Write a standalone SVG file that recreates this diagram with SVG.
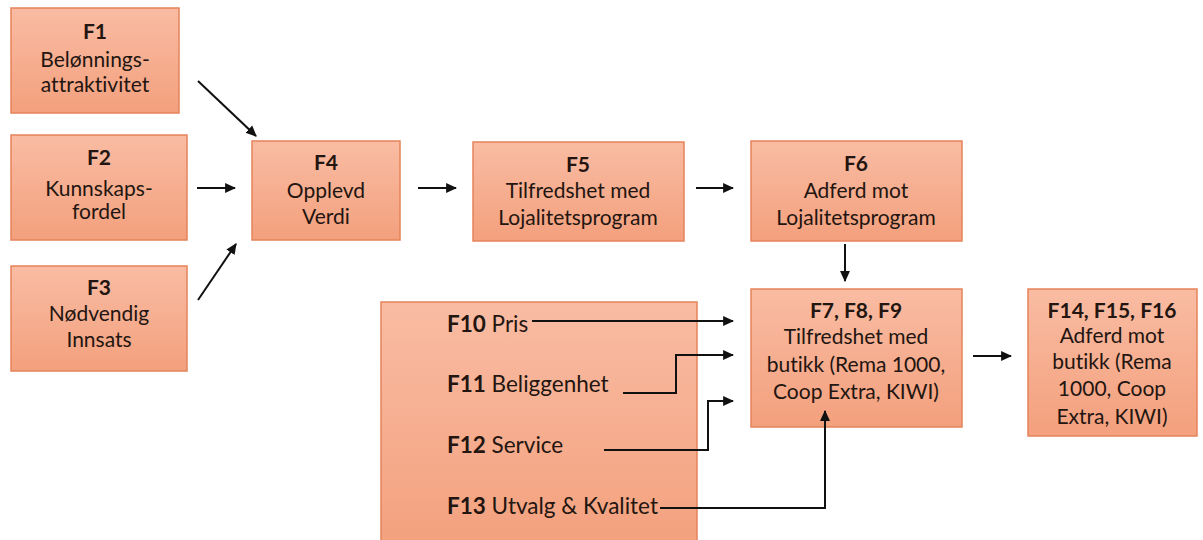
<svg xmlns="http://www.w3.org/2000/svg" width="1203" height="540" viewBox="0 0 1203 540">
  <defs>
    <linearGradient id="boxFill" x1="0" y1="0" x2="0" y2="1">
      <stop offset="0" stop-color="#F9BCA3"/>
      <stop offset="1" stop-color="#F3A07D"/>
    </linearGradient>
    <marker id="arrow" viewBox="0 0 10 10" refX="9" refY="5" markerWidth="11" markerHeight="11" markerUnits="userSpaceOnUse" orient="auto">
      <path d="M0,0.5 L10,5 L0,9.5 z" fill="#111"/>
    </marker>
  </defs>
  <style>
    .box { fill: url(#boxFill); stroke: #E5835A; stroke-width: 1.5; }
    text { font-variant-ligatures: none; font-feature-settings: "liga" 0, "clig" 0, "dlig" 0; }
    .t { font-family: Lato, "Open Sans", sans-serif; font-size: 21px; fill: #231510; text-anchor: middle; }
    .b { font-weight: bold; }
    .lbl { font-family: Lato, "Open Sans", sans-serif; font-size: 22.5px; fill: #231510; }
    .conn { fill: none; stroke: #111; stroke-width: 2; marker-end: url(#arrow); }
  </style>
  <rect width="1203" height="540" fill="#ffffff"/>

  <g id="F1">
    <rect class="box" x="11" y="8" width="168" height="105"/>
    <text class="t b" x="95" y="39">F1</text>
    <text class="t" x="95" y="67">Belønnings-</text>
    <text class="t" x="95" y="92">attraktivitet</text>
  </g>
  <g id="F2">
    <rect class="box" x="11" y="135" width="176" height="105"/>
    <text class="t b" x="99" y="165">F2</text>
    <text class="t" x="99" y="196">Kunnskaps-</text>
    <text class="t" x="99" y="219">fordel</text>
  </g>
  <g id="F3">
    <rect class="box" x="11" y="266" width="176" height="105"/>
    <text class="t b" x="99" y="295">F3</text>
    <text class="t" x="99" y="321">Nødvendig</text>
    <text class="t" x="99" y="347">Innsats</text>
  </g>
  <g id="F4">
    <rect class="box" x="252" y="141" width="148" height="99"/>
    <text class="t b" x="326" y="170">F4</text>
    <text class="t" x="326" y="198">Opplevd</text>
    <text class="t" x="326" y="224">Verdi</text>
  </g>
  <g id="F5">
    <rect class="box" x="473" y="142" width="211" height="99"/>
    <text class="t b" x="578" y="172">F5</text>
    <text class="t" x="578" y="198">Tilfredshet med</text>
    <text class="t" x="578" y="225">Lojalitetsprogram</text>
  </g>
  <g id="F6">
    <rect class="box" x="751" y="141" width="211" height="100"/>
    <text class="t b" x="856" y="171">F6</text>
    <text class="t" x="856" y="198">Adferd mot</text>
    <text class="t" x="856" y="225">Lojalitetsprogram</text>
  </g>
  <g id="F7-F9">
    <rect class="box" x="751" y="289" width="211" height="138"/>
    <text class="t b" x="856" y="318">F7, F8, F9</text>
    <text class="t" x="856" y="344">Tilfredshet med</text>
    <text class="t" x="856" y="372">butikk (Rema 1000,</text>
    <text class="t" x="856" y="399">Coop Extra, KIWI)</text>
  </g>
  <g id="F14-F16">
    <rect class="box" x="1028" y="289" width="169" height="147"/>
    <text class="t b" x="1112" y="318">F14, F15, F16</text>
    <text class="t" x="1112" y="343">Adferd mot</text>
    <text class="t" x="1112" y="369">butikk (Rema</text>
    <text class="t" x="1112" y="396">1000, Coop</text>
    <text class="t" x="1112" y="424">Extra, KIWI)</text>
  </g>
  <g id="F10-F13">
    <rect class="box" x="381" y="302" width="316" height="250"/>
    <text class="lbl" x="447" y="332"><tspan font-weight="bold">F10</tspan> Pris</text>
    <text class="lbl" x="447" y="392"><tspan font-weight="bold">F11</tspan> Beliggenhet</text>
    <text class="lbl" x="447" y="453"><tspan font-weight="bold">F12</tspan> Service</text>
    <text class="lbl" x="447" y="514"><tspan font-weight="bold">F13</tspan> Utvalg &amp; Kvalitet</text>
  </g>

  <g id="connectors">
    <line class="conn" x1="198" y1="81" x2="256" y2="136"/>
    <line class="conn" x1="197" y1="188" x2="235" y2="188"/>
    <line class="conn" x1="198" y1="300" x2="236" y2="244"/>
    <line class="conn" x1="418" y1="188" x2="456" y2="188"/>
    <line class="conn" x1="696" y1="188" x2="733" y2="188"/>
    <line class="conn" x1="845" y1="244" x2="845" y2="281"/>
    <line class="conn" x1="973" y1="356" x2="1011" y2="356"/>
    <polyline class="conn" points="532,321 733,321"/>
    <polyline class="conn" points="623,393 676,393 676,355 733,355"/>
    <polyline class="conn" points="604,450 708,450 708,401 733,401"/>
    <polyline class="conn" points="660,508 825,508 825,411"/>
  </g>
</svg>
